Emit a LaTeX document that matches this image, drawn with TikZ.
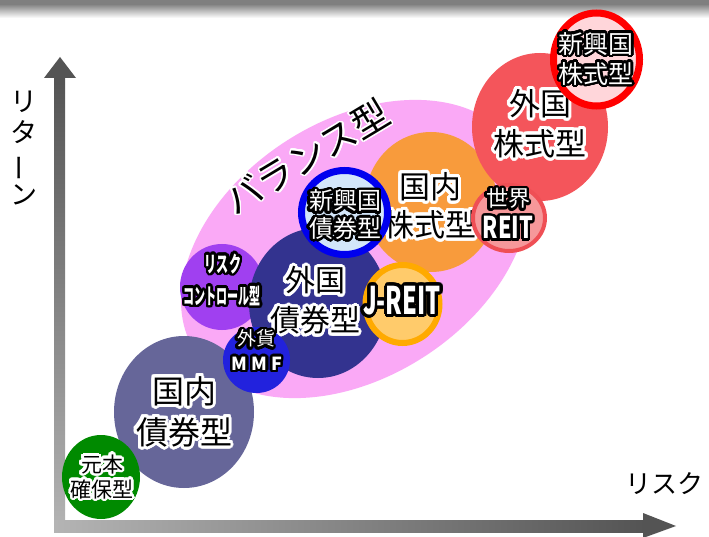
\documentclass[tikz,border=0pt]{standalone}
\usepackage{fontspec}
\setmainfont{Noto Sans CJK JP}
\usepackage{graphicx}
\usepackage{contour}
\contournumber{32}
\definecolor{bar}{HTML}{7F7F7F}
\definecolor{axd}{HTML}{545454}
\definecolor{axl}{HTML}{B4B4B4}
\definecolor{balpink}{HTML}{FAA9F6}
\definecolor{emred}{HTML}{FF0000}
\definecolor{emredfill}{HTML}{FFD6DA}
\definecolor{fstock}{HTML}{F4555B}
\definecolor{wreitfill}{HTML}{F6989A}
\definecolor{wreitring}{HTML}{EF4F55}
\definecolor{dstock}{HTML}{F89B3C}
\definecolor{emblue}{HTML}{0000EE}
\definecolor{embluefill}{HTML}{D3E6FA}
\definecolor{jreitring}{HTML}{FFAA00}
\definecolor{jreitfill}{HTML}{FFCB6B}
\definecolor{fbond}{HTML}{33338F}
\definecolor{riskp}{HTML}{A040F0}
\definecolor{mmfblue}{HTML}{2222DD}
\definecolor{dbond}{HTML}{666699}
\definecolor{principal}{HTML}{008A00}
\newcommand\gw[2][3pt]{{\contourlength{#1}\contour{white}{#2}}}
\newcommand\bw[2][2.5pt]{{\contourlength{#1}\color{white}\contour{black}{#2}}}
\newcommand\setfs[2]{\fontsize{#1}{#2}\selectfont}
\begin{document}
\begin{tikzpicture}[x=1pt,y=-1pt,
  lbl/.style={align=center, inner sep=0, outer sep=0}]
\useasboundingbox (0,0) rectangle (709,537);
\fill[white] (0,0) rectangle (709,537);
% top bar
\fill[bar] (0,0) rectangle (709,6);
\shade[top color=bar!85!white, bottom color=white] (0,6) rectangle (709,18);
% axes
\shade[top color=axd, bottom color=axl] (54,77) rectangle (65,532);
\fill[axd] (60,57) -- (76,78) -- (44,78) -- cycle;
\shade[left color=axl, right color=axd] (54,520) rectangle (645,532);
\fill[axd] (676,526) -- (643,538) -- (643,513) -- cycle;
\node[lbl, font=\setfs{27}{31}] (ylab) at (24,148) {リ\\タ\\\rotatebox[origin=c]{90}{ー}\\ン};
\node[lbl, font=\setfs{26}{26}] (xlab) at (664,484) {リスク};
% balance
\fill[balpink, rotate around={33:(355,249)}] (355,249) ellipse [x radius=190, y radius=128];
\node[lbl, rotate=31, font=\setfs{37}{37}] (bal) at (307,157) {\gw[1.5pt]{バランス型}};
% domestic bond
\fill[dbond] (184,412) ellipse [x radius=70, y radius=76];
\node[lbl, font=\setfs{32}{41}] (dbondl) at (184,413) {\gw{国内}\\\gw{債券型}};
% principal
\fill[principal] (101,477) ellipse [x radius=39, y radius=42];
\node[lbl, font=\setfs{21}{25}] (prin) at (102,478) {\gw[2.5pt]{元本}\\\gw[2.5pt]{確保型}};
% risk control circle
\fill[riskp] (222,287) ellipse [x radius=42, y radius=43];
% domestic stock
\fill[dstock] (431,202) ellipse [x radius=66, y radius=70];
\node[lbl, font=\setfs{31}{38}] (dst) at (430,207) {\gw{国内}\\\gw{株式型}};
% foreign stock
\fill[fstock] (540,127) ellipse [x radius=68, y radius=74];
\node[lbl, font=\setfs{31}{40}] (fst) at (540,125) {\gw{外国}\\\gw{株式型}};
% foreign bond
\fill[fbond] (318,303) ellipse [x radius=69, y radius=75];
\node[lbl, font=\setfs{30}{40}] (fbd) at (315,302) {\gw{外国}\\\gw{債券型}};
% risk control labels
\node[lbl, font=\bfseries\setfs{22}{22}] (rc1) at (223,265) {\bw{\scalebox{0.55}[1]{リスク}}};
\node[lbl, font=\bfseries\setfs{22}{22}] (rc2) at (222,297) {\bw{\scalebox{0.5}[1]{コントロール型}}};
% MMF
\fill[mmfblue] (256.5,360) ellipse [x radius=33.5, y radius=33];
\node[lbl, font=\setfs{19}{19}] (mmf1) at (256,340) {\bw{外貨}};
\node[lbl, font=\bfseries\setfs{18}{18}] (mmf2) at (257,365) {\bw{M M F}};
% emerging bond
\filldraw[fill=embluefill, draw=emblue, line width=7pt] (344.5,212.5) ellipse [x radius=43, y radius=42];
\node[lbl, font=\setfs{24}{27.5}] (ebd) at (345,216) {\bw{新興国}\\\bw{債券型}};
% J-REIT
\filldraw[fill=jreitfill, draw=jreitring, line width=6pt] (402.5,304) ellipse [x radius=37, y radius=39];
\node[lbl, font=\bfseries\setfs{38}{38}] (jr) at (402,302) {\bw[3pt]{\scalebox{0.62}[1]{J-REIT}}};
% world REIT
\filldraw[fill=wreitfill, draw=wreitring, line width=4pt] (509,218) ellipse [x radius=36, y radius=33];
\node[lbl, font=\setfs{22}{22}] (wr1) at (508,200) {\bw{世界}};
\node[lbl, font=\bfseries\setfs{30}{30}] (wr2) at (508,229) {\bw{\scalebox{0.72}[1]{REIT}}};
% emerging stock
\filldraw[fill=emredfill, draw=emred, line width=7pt] (596.5,59.5) ellipse [x radius=43, y radius=46.5];
\node[lbl, font=\setfs{25}{30}] (est) at (596,60) {\bw{新興国}\\\bw{株式型}};
\end{tikzpicture}
\end{document}
